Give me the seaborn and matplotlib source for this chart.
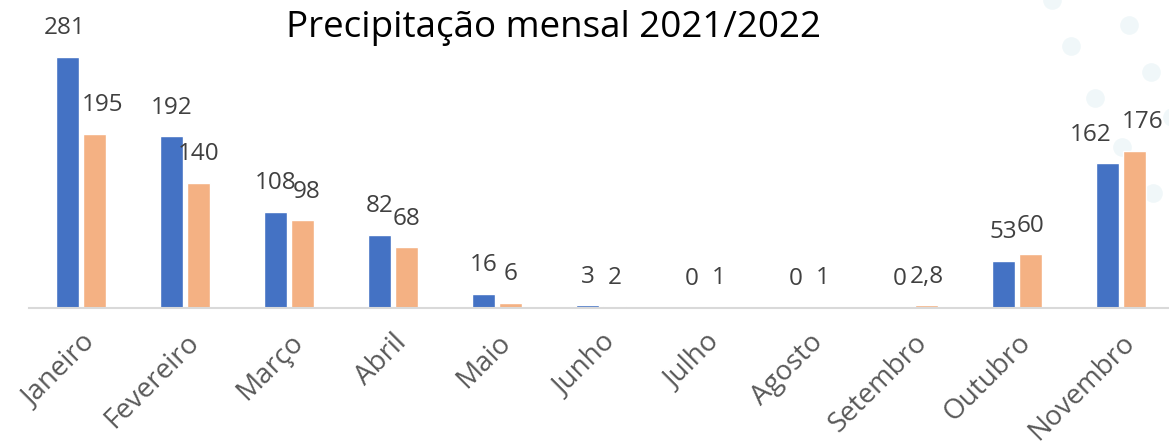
import matplotlib
matplotlib.use("Agg")
import matplotlib.pyplot as plt
import pandas as pd
import seaborn as sns

months = ["Janeiro", "Fevereiro", "Março", "Abril", "Maio", "Junho",
          "Julho", "Agosto", "Setembro", "Outubro", "Novembro"]
rain_2021 = [281, 192, 108, 82, 16, 3, 0, 0, 0, 53, 162]
rain_2022 = [195, 140, 98, 68, 6, 2, 1, 1, 2.8, 60, 176]
years = ["2021", "2022"]
title = "Precipitação mensal 2021/2022"


def fmt(v):
    return f"{v:g}".replace(".", ",")


def main():
    sns.set_theme(style="white")
    plt.rcParams["font.family"] = ["Open Sans", "DejaVu Sans"]

    df = pd.DataFrame({
        "mes": months * 2,
        "mm": rain_2021 + rain_2022,
        "ano": [years[0]] * len(months) + [years[1]] * len(months),
    })

    fig = plt.figure(figsize=(11.69, 4.44), dpi=100, facecolor="white")

    # faint decorative dots, top right
    bg = fig.add_axes([0, 0, 1, 1], zorder=0)
    bg.set_xlim(0, 1169)
    bg.set_ylim(444, 0)
    bg.axis("off")
    dots_x = [1052, 1129, 1071, 1151, 1095, 1122, 1153, 1172]
    dots_y = [0, 25, 46, 72, 98, 147, 193, 117]
    bg.scatter(dots_x, dots_y, s=180, color="#F0F7F9", linewidths=0)

    ax = fig.add_axes([29 / 1169, 136 / 444, 1144 / 1169, 268 / 444], zorder=1)
    ax.patch.set_alpha(0)
    sns.barplot(data=df, x="mes", y="mm", hue="ano",
                palette=["#4472C4", "#F4B183"], saturation=1,
                width=0.52, gap=0.12, edgecolor="white", linewidth=1,
                legend=False, ax=ax)
    ax.set_xlim(-0.5, len(months) - 0.5)
    ax.set_ylim(0, 300)

    texts = []
    for cont, vals in zip(ax.containers, [rain_2021, rain_2022]):
        texts.append(ax.bar_label(cont, labels=[fmt(v) for v in vals],
                                  padding=12, fontsize=17.5, color="#404040",
                                  clip_on=False))
    # nudge labels apart where they collide, like the original
    for i, dx in [(0, -2), (10, -12)]:
        texts[0][i].xyann = (dx, texts[0][i].xyann[1])
    for i, dx in [(0, 6), (2, 3), (10, 6)]:
        texts[1][i].xyann = (dx, texts[1][i].xyann[1])

    for s in ["top", "right", "left"]:
        ax.spines[s].set_visible(False)
    ax.spines["bottom"].set_color("#D9D9D9")
    ax.spines["bottom"].set_linewidth(1.5)
    ax.set_yticks([])
    ax.set(xlabel="", ylabel="")
    ax.tick_params(axis="x", length=0, pad=15)
    plt.setp(ax.get_xticklabels(), rotation=45, ha="right",
             rotation_mode="anchor", fontsize=20, color="#595959")

    fig.text(554 / 1169, 1 - 28 / 444, title, ha="center", va="center",
             fontsize=26.5, color="black")

    fig.savefig("out.png", dpi=100, facecolor="white")


if __name__ == "__main__":
    main()
